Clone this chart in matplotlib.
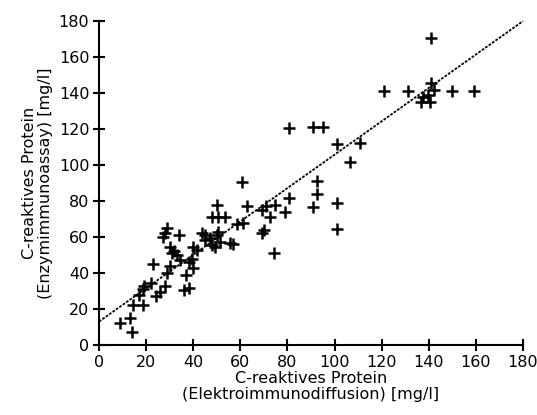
"""Scatter plot: CRP by enzyme immunoassay vs. electroimmunodiffusion."""
import matplotlib

matplotlib.use("Agg")
import matplotlib.pyplot as plt
import numpy as np

# Values (mg/l).
ELEKTRO = [
    9, 13, 14, 14.5, 18.7, 17, 18.5, 19, 22, 23, 24, 26, 28, 29, 30,
    27, 29, 28, 34, 30, 32, 31, 33, 34.5, 36, 38, 37, 38, 39.5, 40, 41.6, 40,
    43.7, 45, 47, 50, 51.4, 48, 49.3, 50.5, 55.6, 57, 45,
    50, 63, 48, 50.5, 53.5, 58.6, 61, 60.7, 69, 71, 74.7, 72.6, 79, 80.7,
    69, 70, 74.3,
    80.7, 91, 95, 101, 111, 106.6, 92.6, 92.6, 91, 101, 101,
    121, 131, 141, 150, 159, 141, 142, 137.6, 136.6, 140.5, 139.7,
]
ENZYM = [
    12, 15, 7, 22, 22, 28, 31, 33, 34.5, 45, 27, 29.5, 33, 40, 44,
    60, 65, 62, 61, 54.5, 52, 51, 50, 47, 30.5, 31.5, 39, 46, 48, 54.5, 52.8, 43,
    62, 58.3, 59.4, 61, 57, 55.5, 54.5, 63, 56.7, 56, 61,
    78, 77, 71, 71, 71, 67, 68, 90.5, 75, 77, 78, 71, 74, 81.5,
    62, 64, 51,
    120.5, 121, 121, 111.5, 112, 101.5, 91, 84, 76.6, 79, 64.5,
    141, 141, 170.5, 141, 141, 145.5, 141.5, 138, 135, 135, 139,
]

# Regression line shown in the figure.
FIT_INTERCEPT = 13.0
FIT_SLOPE = 0.928
FIT_RANGE = (0, 180)

TICKS = list(range(0, 181, 20))

fig = plt.figure(figsize=(5.37, 4.15), dpi=100)
ax = fig.add_axes([0.1844, 0.1687, 0.7896, 0.7803])

fit_x = np.array(FIT_RANGE, dtype=float)
ax.plot(fit_x, FIT_INTERCEPT + FIT_SLOPE * fit_x, color="black", lw=1.3,
        linestyle=(0, (1.5, 0.8)), clip_on=False)
ax.plot(ELEKTRO, ENZYM, linestyle="none", marker="+", color="black",
        markersize=8, markeredgewidth=1.8, clip_on=False)

ax.set_xlim(0, 180)
ax.set_ylim(0, 180)
ax.set_xticks(TICKS)
ax.set_yticks(TICKS)
for spine in ("top", "right"):
    ax.spines[spine].set_visible(False)
for spine in ("left", "bottom"):
    ax.spines[spine].set_linewidth(1.5)
ax.tick_params(direction="inout", length=8, width=1.5, labelsize=11.5, pad=3)

ax.set_xlabel("C-reaktives Protein\n(Elektroimmunodiffusion) [mg/l]",
              fontsize=11.5, labelpad=1, linespacing=1.1)
ax.set_ylabel("C-reaktives Protein\n(Enzymimmunoassay) [mg/l]",
              fontsize=11.5, labelpad=4, linespacing=1.1)

fig.savefig("out.png", dpi=100)
